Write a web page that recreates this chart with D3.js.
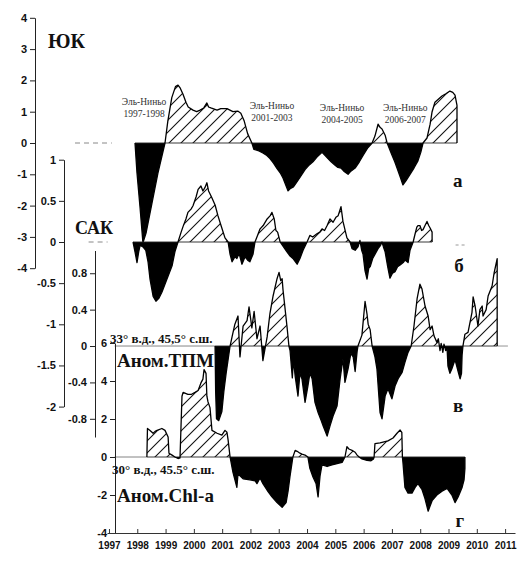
<!DOCTYPE html>
<html><head><meta charset="utf-8">
<script src="https://cdn.jsdelivr.net/npm/d3@7"></script>
<style>body{margin:0;background:#fff}svg{display:block}</style>
</head><body>
<svg id="c" width="529" height="561"></svg>
<script>
// ---------- DATA ----------
const yukSeries = [[1997.92,0],[1997.99,-0.96],[1998.10,-2.08],[1998.20,-3.19],[1998.31,-2.88],[1998.52,-1.92],[1998.73,-0.96],[1998.98,0],[1999.08,0.7],[1999.22,1.45],[1999.35,1.8],[1999.44,1.85],[1999.52,1.75],[1999.62,1.55],[1999.72,1.3],[1999.80,1.15],[1999.97,1.05],[2000.10,1.0],[2000.22,1.05],[2000.35,1.12],[2000.46,1.28],[2000.52,1.15],[2000.60,1.12],[2000.82,1.05],[2000.95,1.1],[2001.17,1.1],[2001.38,1.0],[2001.55,1.02],[2001.66,0.95],[2001.78,0.7],[2001.90,0.3],[2002.05,0],[2002.12,-0.2],[2002.30,-0.25],[2002.44,-0.32],[2002.58,-0.4],[2002.69,-0.5],[2002.82,-0.65],[2002.94,-0.82],[2003.05,-0.95],[2003.15,-1.12],[2003.25,-1.35],[2003.33,-1.53],[2003.42,-1.45],[2003.52,-1.4],[2003.60,-1.3],[2003.75,-1.1],[2003.93,-0.85],[2004.08,-0.7],[2004.21,-0.6],[2004.35,-0.45],[2004.53,-0.3],[2004.64,-0.4],[2004.74,-0.5],[2004.85,-0.6],[2004.98,-0.7],[2005.09,-0.78],[2005.20,-0.8],[2005.30,-0.9],[2005.45,-1.0],[2005.55,-0.9],[2005.70,-0.8],[2005.85,-0.6],[2005.98,-0.4],[2006.15,-0.15],[2006.30,0],[2006.40,0.22],[2006.51,0.6],[2006.58,0.5],[2006.65,0.45],[2006.76,0.25],[2006.83,0],[2007.00,-0.38],[2007.10,-0.6],[2007.18,-0.8],[2007.30,-1.1],[2007.39,-1.34],[2007.50,-1.2],[2007.64,-1.0],[2007.78,-0.8],[2007.92,-0.57],[2008.02,-0.3],[2008.10,0],[2008.24,0.16],[2008.35,0.6],[2008.42,1.0],[2008.52,1.3],[2008.62,1.38],[2008.77,1.5],[2008.92,1.58],[2009.05,1.66],[2009.15,1.62],[2009.23,1.53],[2009.30,1.2]];

const sakSeries = [[1997.85,0],[1997.92,-0.12],[1997.99,-0.25],[1998.05,-0.12],[1998.10,-0.04],[1998.20,-0.06],[1998.30,-0.1],[1998.38,-0.24],[1998.45,-0.45],[1998.56,-0.66],[1998.66,-0.72],[1998.77,-0.68],[1998.87,-0.61],[1999.05,-0.45],[1999.23,-0.29],[1999.33,-0.12],[1999.44,0],[1999.55,0.12],[1999.62,0.19],[1999.72,0.28],[1999.79,0.36],[1999.90,0.4],[1999.97,0.44],[2000.08,0.55],[2000.15,0.64],[2000.25,0.68],[2000.32,0.62],[2000.39,0.66],[2000.46,0.72],[2000.52,0.62],[2000.62,0.55],[2000.75,0.45],[2000.85,0.32],[2000.96,0.2],[2001.10,0.05],[2001.21,0],[2001.28,-0.15],[2001.35,-0.24],[2001.45,-0.18],[2001.52,-0.2],[2001.60,-0.14],[2001.70,-0.27],[2001.81,-0.18],[2001.90,-0.22],[2001.98,-0.24],[2002.09,-0.15],[2002.16,0],[2002.25,0.08],[2002.34,0.16],[2002.45,0.2],[2002.59,0.28],[2002.70,0.32],[2002.76,0.36],[2002.84,0.28],[2002.90,0.14],[2002.96,0.12],[2003.05,0],[2003.15,-0.05],[2003.29,-0.12],[2003.40,-0.17],[2003.50,-0.2],[2003.65,-0.27],[2003.75,-0.2],[2003.86,-0.1],[2004.00,0],[2004.10,0.08],[2004.20,0.06],[2004.35,0.1],[2004.45,0.12],[2004.53,0.16],[2004.62,0.14],[2004.71,0.2],[2004.81,0.28],[2004.92,0.24],[2005.02,0.3],[2005.10,0.32],[2005.20,0.43],[2005.27,0.25],[2005.34,0.15],[2005.41,0.05],[2005.52,0],[2005.59,-0.08],[2005.70,-0.1],[2005.80,-0.06],[2005.87,0.02],[2005.93,-0.1],[2005.98,-0.15],[2006.05,-0.35],[2006.12,-0.45],[2006.18,-0.32],[2006.23,-0.3],[2006.32,-0.2],[2006.40,-0.15],[2006.51,-0.08],[2006.60,-0.04],[2006.65,0.0],[2006.70,-0.06],[2006.76,-0.12],[2006.85,-0.3],[2006.93,-0.44],[2007.02,-0.38],[2007.11,-0.36],[2007.20,-0.3],[2007.29,-0.28],[2007.40,-0.25],[2007.46,-0.22],[2007.57,-0.25],[2007.64,-0.1],[2007.75,0],[2007.82,0.1],[2007.88,0.18],[2007.92,0.2],[2007.99,0.2],[2008.05,0.14],[2008.10,0.15],[2008.17,0.2],[2008.24,0.25],[2008.30,0.2],[2008.35,0.17],[2008.42,0.12]];

const tpmSeries = [[2000.75,0],[2000.77,-0.5],[2000.80,-0.8],[2000.88,-0.82],[2000.99,-0.72],[2001.06,-0.5],[2001.14,-0.3],[2001.28,0],[2001.35,0.1],[2001.45,0.24],[2001.56,0.33],[2001.63,-0.12],[2001.74,0.22],[2001.88,0.28],[2001.95,0.43],[2002.05,0.2],[2002.13,0.38],[2002.23,0.08],[2002.34,0.22],[2002.44,-0.16],[2002.59,0.1],[2002.69,0.36],[2002.80,0.55],[2002.94,0.74],[2003.01,0.81],[2003.07,0.72],[2003.12,0.74],[2003.15,0.62],[2003.29,0.22],[2003.36,0],[2003.40,-0.05],[2003.48,-0.35],[2003.52,-0.15],[2003.58,-0.33],[2003.68,-0.55],[2003.75,-0.3],[2003.82,-0.36],[2003.93,-0.62],[2004.03,-0.44],[2004.10,-0.3],[2004.18,-0.36],[2004.28,-0.62],[2004.39,-0.73],[2004.50,-0.82],[2004.57,-0.88],[2004.71,-0.99],[2004.81,-0.88],[2004.92,-0.77],[2005.06,-0.66],[2005.17,-0.36],[2005.27,-0.14],[2005.34,-0.4],[2005.45,-0.25],[2005.55,-0.08],[2005.63,-0.12],[2005.70,-0.28],[2005.77,-0.06],[2005.80,0],[2005.94,0.12],[2006.05,0.49],[2006.12,0.35],[2006.16,0.24],[2006.23,0.18],[2006.30,0],[2006.40,-0.12],[2006.47,-0.25],[2006.58,-0.73],[2006.65,-0.8],[2006.76,-0.55],[2006.86,-0.47],[2007.00,-0.58],[2007.11,-0.44],[2007.22,-0.36],[2007.36,-0.29],[2007.46,-0.18],[2007.57,-0.07],[2007.68,0],[2007.78,0.22],[2007.89,0.52],[2007.99,0.68],[2008.06,0.63],[2008.17,0.44],[2008.28,0.33],[2008.35,0.18],[2008.42,0.22],[2008.49,0.11],[2008.59,0.04],[2008.64,0.08],[2008.70,-0.05],[2008.74,0.03],[2008.80,-0.07],[2008.84,0.02],[2008.90,-0.05],[2008.95,-0.03],[2008.98,-0.22],[2009.05,-0.3],[2009.12,-0.25],[2009.23,-0.15],[2009.34,-0.28],[2009.41,-0.36],[2009.46,-0.3],[2009.48,-0.1],[2009.51,0],[2009.58,0.13],[2009.69,0.15],[2009.83,0.37],[2009.87,0.54],[2009.94,0.44],[2010.04,0.22],[2010.11,0.4],[2010.19,0.44],[2010.22,0.33],[2010.33,0.4],[2010.40,0.55],[2010.54,0.66],[2010.61,0.8],[2010.72,0.96]];

const chlSeries = [[1998.34,0],[1998.36,1.5],[1998.45,1.4],[1998.56,1.25],[1998.63,1.35],[1998.70,1.4],[1998.87,1.5],[1998.98,1.4],[1999.09,1.05],[1999.12,0.2],[1999.23,0.1],[1999.33,0],[1999.44,-0.08],[1999.51,-0.05],[1999.58,3.2],[1999.62,3.4],[1999.79,3.3],[1999.92,3.3],[2000.04,3.4],[2000.15,3.5],[2000.25,3.9],[2000.32,4.1],[2000.36,4.6],[2000.43,4.4],[2000.46,3.2],[2000.50,2.9],[2000.57,2.6],[2000.64,1.4],[2000.82,1.25],[2000.99,1.15],[2001.10,1.4],[2001.17,1.3],[2001.21,0.9],[2001.28,0],[2001.38,-0.8],[2001.52,-1.6],[2001.56,-0.9],[2001.74,-1.15],[2001.98,-1.2],[2002.16,-1.25],[2002.23,-1.4],[2002.34,-1.1],[2002.44,-1.4],[2002.59,-1.75],[2002.76,-2.1],[2002.94,-2.4],[2003.12,-2.65],[2003.26,-2.4],[2003.33,-1.8],[2003.40,-1.0],[2003.47,-0.3],[2003.50,0],[2003.58,0.35],[2003.65,0.3],[2003.75,0.2],[2003.82,0.15],[2003.93,0.1],[2004.03,0],[2004.10,-0.6],[2004.21,-1.05],[2004.32,-1.4],[2004.39,-2.1],[2004.46,-1.0],[2004.53,-0.4],[2004.62,-0.45],[2004.71,-0.5],[2004.88,-0.42],[2005.06,-0.35],[2005.24,-0.28],[2005.34,0],[2005.41,0.55],[2005.48,0.42],[2005.59,0.35],[2005.70,0.25],[2005.77,0.1],[2005.84,0],[2005.94,-0.1],[2006.12,-0.18],[2006.26,-0.2],[2006.35,-0.1],[2006.37,0],[2006.40,0.7],[2006.58,0.74],[2006.86,0.85],[2007.04,1.0],[2007.18,1.25],[2007.29,1.42],[2007.35,1.3],[2007.37,0],[2007.39,-0.3],[2007.46,-1.6],[2007.57,-1.9],[2007.71,-1.9],[2007.82,-1.6],[2007.92,-1.4],[2008.06,-1.7],[2008.17,-2.2],[2008.28,-2.85],[2008.42,-2.3],[2008.59,-2.0],[2008.77,-1.8],[2008.95,-1.65],[2009.12,-2.0],[2009.23,-2.4],[2009.34,-2.1],[2009.48,-1.6],[2009.55,-1.2],[2009.58,-0.6]];

const yukTicks = [4,3,2,1,0,-1,-2,-3,-4];
const sakTicks = [1,0.5,0,-0.5,-1,-1.5,-2];
const tpmTicks = [0.8,0.4,0,-0.4,-0.8];
const chlTicks = [6,4,2,0,-2,-4];
const yearTicks = [1997,1998,1999,2000,2001,2002,2003,2004,2005,2006,2007,2008,2009,2010,2011];
const ninoPeriods = ["1997-1998","2001-2003","2004-2005","2006-2007"];
const ninoTitle = "Эль-Ниньо";
const panelLetters = ["а","б","в","г"];

// ---------- LAYOUT ----------
const svg = d3.select("#c");
const serif = "'Liberation Serif','Times New Roman',serif";
const sans = "'Liberation Sans',Arial,sans-serif";
const x = d3.scaleLinear().domain([1996.93, 2011.35]).range([107, 515]);

const yA = d3.scaleLinear().domain([-4, 4]).range([268.2, 17.8]);
const yB = d3.scaleLinear().domain([-2, 1]).range([406.6, 159.7]);
const yC = d3.scaleLinear().domain([-1, 1.05]).range([437, 250.5]);
const yD = d3.scaleLinear().domain([-4, 6]).range([533, 343]);

const defs = svg.append("defs");
const pat = defs.append("pattern").attr("id","hatch").attr("patternUnits","userSpaceOnUse")
  .attr("width",12).attr("height",12);
pat.append("rect").attr("width",12).attr("height",12).attr("fill","#fff");
pat.append("path").attr("d","M-3,3 L3,-3 M0,12 L12,0 M9,15 L15,9")
  .attr("stroke","#111").attr("stroke-width",1.1);

const panels = [
  {key:"a", data:yukSeries, y:yA, leadFrom:1995.8, leadTo:1997.1, dash:true},
  {key:"b", data:sakSeries, y:yB, leadFrom:1996.28, leadTo:1996.95, dash:true},
  {key:"c", data:tpmSeries, y:yC, leadFrom:1997.2, zeroTo:2011.1},
  {key:"d", data:chlSeries, y:yD, leadFrom:1997.2}
];

panels.forEach(p => {
  const z = p.y(0);
  defs.append("clipPath").attr("id","up-"+p.key).append("rect")
    .attr("x",0).attr("y",0).attr("width",529).attr("height",z);
  defs.append("clipPath").attr("id","dn-"+p.key).append("rect")
    .attr("x",0).attr("y",z).attr("width",529).attr("height",561-z);
  const first = p.data[0], last = p.data[p.data.length-1];
  const pts = [[first[0],0], ...p.data, [last[0],0]];
  const g = svg.append("g");
  if (p.dash) {
    g.append("line").attr("x1",x(p.leadFrom)).attr("x2",x(p.leadTo))
      .attr("y1",z).attr("y2",z).attr("stroke","#888").attr("stroke-width",1)
      .attr("stroke-dasharray","5,4");
  } else {
    g.append("line").attr("x1",x(p.leadFrom)).attr("x2",x(first[0]))
      .attr("y1",z).attr("y2",z).attr("stroke","#666").attr("stroke-width",0.8);
  }
  if (p.zeroTo) {
    g.append("line").attr("x1",x(last[0])).attr("x2",x(p.zeroTo))
      .attr("y1",z).attr("y2",z).attr("stroke","#777").attr("stroke-width",0.8);
  }
  const area = d3.area().x(d=>x(d[0])).y0(z).y1(d=>p.y(d[1]));
  g.append("path").attr("d",area(pts)).attr("fill","url(#hatch)").attr("clip-path","url(#up-"+p.key+")");
  g.append("path").attr("d",area(pts)).attr("fill","#000").attr("clip-path","url(#dn-"+p.key+")");
  g.append("line").attr("x1",x(first[0])).attr("x2",x(last[0])).attr("y1",z).attr("y2",z)
    .attr("stroke","#222").attr("stroke-width",0.9);
  const line = d3.line().x(d=>x(d[0])).y(d=>p.y(d[1]));
  g.append("path").attr("d",line(pts)).attr("fill","none").attr("stroke","#000")
    .attr("stroke-width",1.3).attr("stroke-linejoin","round");
});

// short dashes at right end of panel б
svg.append("line").attr("x1",x(2009.25)).attr("x2",x(2009.6)).attr("y1",yB(0)+3).attr("y2",yB(0)+3)
  .attr("stroke","#999").attr("stroke-dasharray","3,3");

// ---------- AXES ----------
const fmt = d => String(d);
function yAxis(scale, xpos, ticks, minor) {
  const g = svg.append("g").attr("transform",`translate(${xpos},0)`);
  g.call(d3.axisLeft(scale).tickValues(minor).tickSize(3).tickSizeOuter(0).tickFormat(""));
  g.call(d3.axisLeft(scale).tickValues(ticks).tickSize(5).tickSizeOuter(0).tickPadding(3).tickFormat(fmt));
  g.selectAll("path,line").attr("stroke","#222");
  g.selectAll("text").attr("font-family",sans).attr("font-weight","bold").attr("font-size",11).attr("fill","#111");
  return g;
}
yAxis(yA, 35, yukTicks, d3.range(-4, 4.01, 0.5));
yAxis(yB, 64, sakTicks, d3.range(-2, 1.01, 0.25));
yAxis(yC, 95, tpmTicks, d3.range(-1, 1.01, 0.2));
yAxis(yD, 115, chlTicks, d3.range(-4, 6.01, 1));

const gx = svg.append("g").attr("transform",`translate(0,${yD(-4)})`);
gx.call(d3.axisBottom(x).tickValues(d3.range(1997, 2011.34, 1/12)).tickSizeInner(-2).tickSizeOuter(0).tickFormat(""));
gx.call(d3.axisBottom(x).tickValues(yearTicks).tickSizeInner(-4).tickSizeOuter(0).tickPadding(9).tickFormat(fmt));
gx.selectAll("path,line").attr("stroke","#333");
gx.selectAll("text").attr("font-family",sans).attr("font-weight","bold").attr("font-size",10).attr("fill","#111");

// ---------- TEXT ----------
function txt(s, xp, yp, size, anchor) {
  return svg.append("text").attr("x",xp).attr("y",yp).attr("font-family",serif)
    .attr("font-weight","bold").attr("font-size",size).attr("fill","#111")
    .attr("text-anchor",anchor||"start").text(s);
}
txt("ЮК", 48, 48, 20);
txt("САК", 75, 234, 18);
txt("33° в.д., 45,5° с.ш.", 110, 343, 13);
txt("Аном.ТПМ", 117, 367, 19);
txt("30° в.д., 45.5° с.ш.", 112, 474, 13);
txt("Аном.Chl-a", 117, 502, 19);

const letterPos = [[2009.16,187],[2009.2,272],[2009.16,412],[2009.25,527]];
panelLetters.forEach((l,i)=> txt(l, x(letterPos[i][0]), letterPos[i][1], 19));

const ninoPos = [[1998.24,105],[2002.76,109],[2005.24,111],[2007.47,111]];
ninoPeriods.forEach((per,i)=>{
  const t = svg.append("text").attr("x",x(ninoPos[i][0])).attr("y",ninoPos[i][1])
    .attr("font-family",serif).attr("font-size",9.5).attr("fill","#333").attr("text-anchor","middle");
  t.append("tspan").attr("x",x(ninoPos[i][0])).text(ninoTitle);
  t.append("tspan").attr("x",x(ninoPos[i][0])).attr("dy",12).text(per);
});
</script>
</body></html>
